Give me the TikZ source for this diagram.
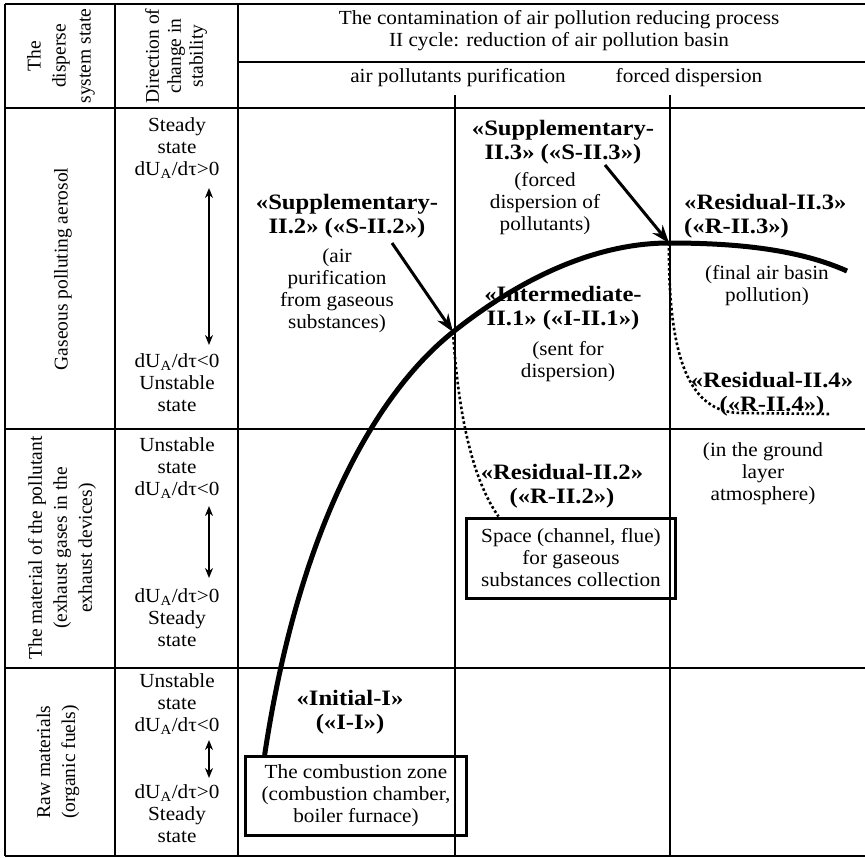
\documentclass[tikz,border=0pt]{standalone}
\usepackage{fontspec}
\setmainfont{Liberation Serif}
\usetikzlibrary{arrows.meta}
\newcommand{\dU}[1]{dU\textsubscript{A}/dτ#1}

\begin{document}
\begin{tikzpicture}[x=1pt,y=-1pt,
	txt/.style={font=\fontsize{20}{22}\selectfont,align=center,inner sep=0pt,xscale=1.06},
	side/.style={font=\fontsize{19.5}{25}\selectfont,align=center,inner sep=0pt,rotate=90},
	lbl/.style={font=\fontsize{22}{24.5}\selectfont\bfseries,align=center,inner sep=0pt,xscale=1.12},
	zone/.style={txt,draw,line width=3pt},
	rule/.style={line width=1.4pt},
	route/.style={line width=5pt},
	hint/.style={line width=3pt,-{Stealth[length=18pt,width=13pt]}},
	both/.style={line width=2pt,{Stealth[length=10pt,width=8pt]}-{Stealth[length=10pt,width=8pt]}},
	leak/.style={line width=2.6pt,dash pattern=on 2.6pt off 2.4pt}]
	\useasboundingbox (0,0) rectangle (865,857);
	%
	\draw [rule] (5,4) -- (865,4);
	\draw [rule] (5,856) -- (865,856);
	\draw [rule] (5,4) -- (5,856);
	\draw [rule] (115,4) -- (115,856);
	\draw [rule] (238,4) -- (238,856);
	\draw [rule] (455,95) -- (455,856);
	\draw [rule] (670,95) -- (670,856);
	\draw [rule] (238,62) -- (865,62);
	\draw [rule] (5,108) -- (865,108);
	\draw [rule] (5,429) -- (865,429);
	\draw [rule] (5,668) -- (865,668);
	%
	\node [side] (h1) at (61,56) {The\\disperse\\system state};
	\node [side,font=\fontsize{19.5}{22}\selectfont] (h2) at (176,56) {Direction of\\change in\\stability};
	\node [txt] (h3) at (559,31) {The contamination of air pollution reducing process\\II cycle: reduction of air pollution basin};
	\node [txt] (h4) at (458,78) {air pollutants purification};
	\node [txt] (h5) at (689,78) {forced dispersion};
	%
	\node [side] (r1) at (63,269) {Gaseous polluting aerosol};
	\node [side] (r2) at (62,548) {The material of the pollutant\\(exhaust gases in the\\exhaust devices)};
	\node [side] (r3) at (58,762) {Raw materials\\(organic fuels)};
	%
	\node [txt] (t1) at (177,148) {Steady\\state\\\dU{>0}};
	\node [txt] (b1) at (177,383) {\dU{<0}\\Unstable\\state};
	\node [txt] (t2) at (177,468) {Unstable\\state\\\dU{<0}};
	\node [txt] (b2) at (177,618) {\dU{>0}\\Steady\\state};
	\node [txt] (t3) at (177,704) {Unstable\\state\\\dU{<0}};
	\node [txt] (b3) at (177,814) {\dU{>0}\\Steady\\state};
	\coordinate (u1) at (209,188);
	\coordinate (d1) at (209,345);
	\coordinate (u2) at (209,506);
	\coordinate (d2) at (209,578);
	\coordinate (u3) at (209,740);
	\coordinate (d3) at (209,778);
	\draw [both] (u1) -- (d1);
	\draw [both] (u2) -- (d2);
	\draw [both] (u3) -- (d3);
	%
	\node [zone,minimum width=209pt,minimum height=79pt] (comb) at (356,796) {The combustion zone\\(combustion chamber,\\boiler furnace)};
	\node [zone,minimum width=198pt,minimum height=80pt] (flue) at (571,558) {Space (channel, flue)\\for gaseous\\substances collection};
	%
	\node [lbl] (ii) at (350,712) {«Initial-I»\\(«I-I»)};
	\node [lbl] (s2) at (347,216) {«Supplementary-\\II.2» («S-II.2»)};
	\node [txt] (s2t) at (337,291) {(air\\purification\\from gaseous\\substances)};
	\node [lbl] (s3) at (563,142) {«Supplementary-\\II.3» («S-II.3»)};
	\node [txt] (s3t) at (545,204) {(forced\\dispersion of\\pollutants)};
	\node [lbl] (i1) at (563,308) {«Intermediate-\\II.1» («I-II.1»)};
	\node [txt] (i1t) at (568,362) {(sent for\\dispersion)};
	\node [lbl,align=left,anchor=west] (r3l) at (684,216) {«Residual-II.3»\\(«R-II.3»)};
	\node [txt] (r3t) at (767,286) {(final air basin\\pollution)};
	\node [lbl] (r4) at (772,394) {«Residual-II.4»\\(«R-II.4»)};
	\node [lbl] (r2l) at (562,486) {«Residual-II.2»\\(«R-II.2»)};
	\node [txt] (r2t) at (763,474) {(in the ground\\layer\\atmosphere)};
	%
	\coordinate (p1) at (453,332);
	\coordinate (p2) at (669,243);
	\coordinate (e) at (847,271);
	\coordinate (a2) at (392,243);
	\coordinate (a3) at (605,165);
	\coordinate (q4) at (830,414);
	%
	\draw [route] ([xshift=21pt]comb.north west) .. controls (300,520) and (380,390) .. (p1)
		.. controls (526,274) and (600,243) .. (p2)
		.. controls (740,243) and (800,250) .. (e);
	\draw [hint] (a2) -- (p1);
	\draw [hint] (a3) -- (p2);
	\draw [leak] (p1) .. controls (460,440) and (480,490) .. ([xshift=34pt]flue.north west);
	\draw [leak] (p2) .. controls (668,360) and (690,412) .. (740,413) -- (q4);
\end{tikzpicture}
\end{document}
